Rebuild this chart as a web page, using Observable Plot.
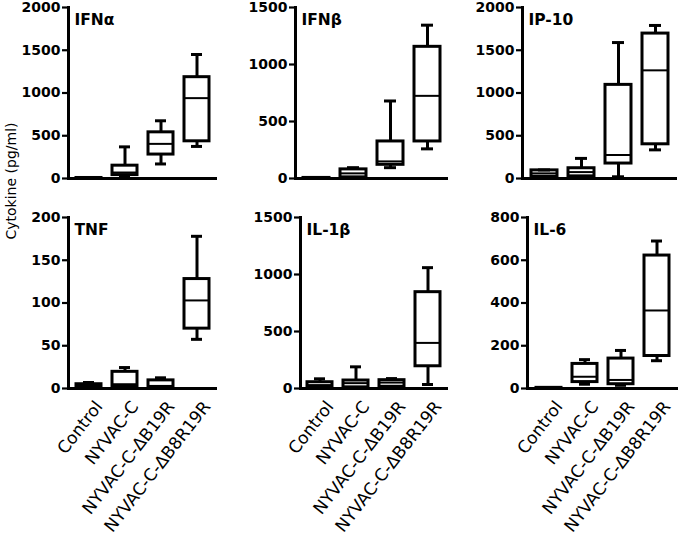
<!DOCTYPE html>
<html>
<head>
<meta charset="utf-8">
<script src="https://cdn.jsdelivr.net/npm/d3@7"></script>
<script src="https://cdn.jsdelivr.net/npm/@observablehq/plot@0.6"></script>
<style>
  body { margin: 0; background: #fff; }
  #chart { position: relative; width: 680px; height: 535px; overflow: hidden; background: #fff; font-family: "DejaVu Sans", sans-serif; }
  #chart .panel { position: absolute; }
  #chart .panel svg { overflow: visible; }
</style>
</head>
<body>
<div id="chart"></div>
<script>
// ---- data ----
const categories = ["Control", "NYVAC-C", "NYVAC-C-ΔB19R", "NYVAC-C-ΔB8R19R"];
const panelTitles = ["IFNα", "IFNβ", "IP-10", "TNF", "IL-1β", "IL-6"];
const yAxisLabel = "Cytokine (pg/ml)";

// each row: [min, q1, median, q3, max] per category
const ifnAlpha = [[0, 0, 3, 6, 10], [15, 40, 70, 150, 370], [170, 280, 405, 540, 675], [375, 435, 940, 1185, 1450]];
const ifnBeta  = [[0, 1, 3, 5, 8], [5, 10, 45, 80, 95], [95, 120, 150, 325, 680], [260, 325, 725, 1155, 1345]];
const ip10     = [[10, 20, 60, 95, 100], [10, 25, 75, 120, 235], [20, 175, 275, 1095, 1590], [335, 400, 1265, 1695, 1790]];
const tnf      = [[0.5, 1.5, 3, 5, 7], [1, 2, 5, 19.5, 24.5], [1, 1.5, 3, 9.5, 12.5], [57.5, 70, 103, 128, 178]];
const il1b     = [[5, 10, 30, 55, 85], [5, 10, 47, 70, 190], [10, 15, 52, 73, 87], [35, 195, 400, 845, 1060]];
const il6      = [[0, 1, 2, 3, 4], [20, 30, 55, 115, 135], [15, 20, 40, 140, 178], [130, 152, 365, 622, 690]];

const ticksIfnAlpha = [0, 500, 1000, 1500, 2000];
const ticksIfnBeta  = [0, 500, 1000, 1500];
const ticksIp10     = [0, 500, 1000, 1500, 2000];
const ticksTnf      = [0, 50, 100, 150, 200];
const ticksIl1b     = [0, 500, 1000, 1500];
const ticksIl6      = [0, 200, 400, 600, 800];

const panelStats = [ifnAlpha, ifnBeta, ip10, tnf, il1b, il6];
const panelTicks = [ticksIfnAlpha, ticksIfnBeta, ticksIp10, ticksTnf, ticksIl1b, ticksIl6];

// ---- layout ----
const layouts = [
  {left: 0,   top: 0,   width: 225, height: 192, ml: 68, mr: 8, mt: 7,  mb: 14, showX: false},
  {left: 228, top: 0,   width: 225, height: 192, ml: 67, mr: 5, mt: 7,  mb: 14, showX: false},
  {left: 455, top: 0,   width: 225, height: 192, ml: 67, mr: 3, mt: 7,  mb: 14, showX: false},
  {left: 0,   top: 205, width: 225, height: 330, ml: 68, mr: 8, mt: 12, mb: 147, showX: true},
  {left: 228, top: 205, width: 225, height: 330, ml: 72, mr: 5, mt: 12, mb: 147, showX: true},
  {left: 455, top: 205, width: 225, height: 330, ml: 72, mr: 2, mt: 12, mb: 147, showX: true}
];

const SW = 3;
const chart = document.getElementById("chart");

panelStats.forEach((stats, i) => {
  const lay = layouts[i];
  const ticks = panelTicks[i];
  const rows = categories.map((c, j) => ({
    cat: c, min: stats[j][0], q1: stats[j][1], med: stats[j][2], q3: stats[j][3], max: stats[j][4]
  }));
  const marks = [
    Plot.ruleX(rows, {x: "cat", y1: "min", y2: "max", stroke: "#000", strokeWidth: SW}),
    Plot.barY(rows, {x: "cat", y1: "q1", y2: "q3", fill: "#fff", stroke: "#000", strokeWidth: SW}),
    Plot.tickY(rows, {x: "cat", y: "med", stroke: "#000", strokeWidth: 2}),
    Plot.tickY(rows, {x: "cat", y: "min", stroke: "#000", strokeWidth: SW, insetLeft: 7, insetRight: 7}),
    Plot.tickY(rows, {x: "cat", y: "max", stroke: "#000", strokeWidth: SW, insetLeft: 7, insetRight: 7}),
    Plot.axisY({ticks, tickFormat: "d", tickSize: 6, tickPadding: 2, fontWeight: "bold", fontSize: 14, strokeWidth: 2.2, stroke: "#000", fill: "#000"}),
    Plot.ruleY([0], {stroke: "#000", strokeWidth: SW}),
    Plot.frame({anchor: "left", stroke: "#000", strokeWidth: SW}),
    Plot.text([panelTitles[i]], {text: d => d, frameAnchor: "top-left", dx: 6, dy: 6, lineAnchor: "top", textAnchor: "start", fontWeight: "bold", fontSize: 15.5, fill: "#000"})
  ];
  if (lay.showX) {
    marks.push(Plot.text(categories, {x: d => d, text: d => d, frameAnchor: "bottom", rotate: -52, textAnchor: "end", lineAnchor: "middle", dx: 10, dy: 15, fontSize: 17, fill: "#000"}));
  }
  const svg = Plot.plot({
    width: lay.width, height: lay.height,
    marginLeft: lay.ml, marginRight: lay.mr, marginTop: lay.mt, marginBottom: lay.mb,
    style: {fontFamily: "DejaVu Sans, sans-serif", color: "#000", background: "transparent", overflow: "visible"},
    x: {type: "band", domain: categories, paddingInner: 0.3, paddingOuter: 0.2, axis: null},
    y: {domain: [0, ticks[ticks.length - 1]], axis: null},
    marks
  });
  const div = document.createElement("div");
  div.className = "panel";
  div.style.left = lay.left + "px";
  div.style.top = lay.top + "px";
  div.appendChild(svg);
  chart.appendChild(div);
});

// y-axis label
const ns = "http://www.w3.org/2000/svg";
const lab = document.createElementNS(ns, "svg");
lab.setAttribute("width", 24);
lab.setAttribute("height", 535);
lab.style.position = "absolute";
lab.style.left = "0px";
lab.style.top = "0px";
const t = document.createElementNS(ns, "text");
t.setAttribute("transform", "translate(11,181) rotate(-90)");
t.setAttribute("text-anchor", "middle");
t.setAttribute("dominant-baseline", "central");
t.setAttribute("font-size", "14");
t.setAttribute("font-family", "DejaVu Sans, sans-serif");
t.setAttribute("fill", "#000");
t.textContent = yAxisLabel;
lab.appendChild(t);
chart.appendChild(lab);
</script>
</body>
</html>
